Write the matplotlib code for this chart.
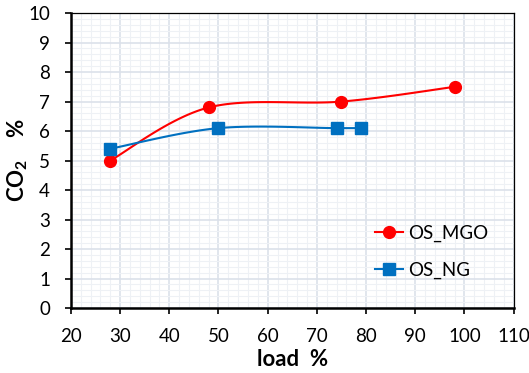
import numpy as np
import matplotlib
matplotlib.use('Agg')
import matplotlib.pyplot as plt
from matplotlib.ticker import MultipleLocator

plt.rcParams['font.family'] = ['Lato', 'DejaVu Sans']
plt.rcParams['mathtext.default'] = 'regular'

# 数据 (读自参考图)
load_mgo = [28, 48, 75, 98]
co2_mgo = [5.0, 6.8, 7.0, 7.5]
load_ng = [28, 50, 74, 79]
co2_ng = [5.4, 6.1, 6.1, 6.1]


def smooth(xs, ys, n=40):
    """Excel 风格平滑线 (Catmull-Rom / Bezier)"""
    p = np.column_stack([xs, ys]).astype(float)
    p = np.vstack([p[0], p, p[-1]])
    out = []
    for i in range(1, len(p) - 2):
        p0, p1, p2, p3 = p[i - 1], p[i], p[i + 1], p[i + 2]
        c1 = p1 + (p2 - p0) / 6
        c2 = p2 - (p3 - p1) / 6
        t = np.linspace(0, 1, n)[:, None]
        seg = ((1 - t) ** 3 * p1 + 3 * (1 - t) ** 2 * t * c1
               + 3 * (1 - t) * t ** 2 * c2 + t ** 3 * p2)
        out.append(seg)
    out = np.vstack(out)
    return out[:, 0], out[:, 1]


fig = plt.figure(figsize=(5.29, 3.73), dpi=100)
ax = fig.add_axes([0.134, 0.174, 0.837, 0.791])

red = '#FF0000'
blue = '#0070C0'

sx, sy = smooth(load_mgo, co2_mgo)
ax.plot(sx, sy, color=red, lw=1.5, zorder=3)
ax.plot(load_mgo, co2_mgo, 'o', color=red, ms=8.5, zorder=4)
sx, sy = smooth(load_ng, co2_ng)
ax.plot(sx, sy, color=blue, lw=1.5, zorder=3)
ax.plot(load_ng, co2_ng, 's', color=blue, ms=8, zorder=4)

# 图例句柄
ax.plot([], [], '-o', color=red, lw=1.5, ms=8.5, label='OS_MGO')
ax.plot([], [], '-s', color=blue, lw=1.5, ms=8, label='OS_NG')

ax.set_xlim(20, 110)
ax.set_ylim(0, 10)
ax.xaxis.set_major_locator(MultipleLocator(10))
ax.yaxis.set_major_locator(MultipleLocator(1))
ax.xaxis.set_minor_locator(MultipleLocator(2))
ax.yaxis.set_minor_locator(MultipleLocator(0.2))
ax.grid(which='major', color='#DCE1EA', lw=1.2, zorder=0)
ax.grid(which='minor', color='#EEF1F5', lw=0.8, zorder=0)
ax.set_axisbelow(True)

ax.tick_params(which='minor', length=0)
ax.tick_params(which='major', direction='out', length=4, width=1.2,
               labelsize=13.5, pad=10, color='black')
ax.tick_params(axis='y', pad=11)

for s in ['left', 'bottom']:
    ax.spines[s].set_linewidth(1.8)
for s in ['top', 'right']:
    ax.spines[s].set_linewidth(0.9)

ax.set_xlabel('load  %', fontsize=16, fontweight='bold', labelpad=3)
ax.set_ylabel('CO$_2$    %', fontsize=16, fontweight='bold')
ax.yaxis.set_label_coords(-0.092, 0.5)

ax.legend(loc='center left', bbox_to_anchor=(0.665, 0.19), frameon=False,
          fontsize=13.5, handlelength=1.5, handletextpad=0.3,
          labelspacing=1.05, borderpad=0)

fig.savefig('out.png', dpi=100)
